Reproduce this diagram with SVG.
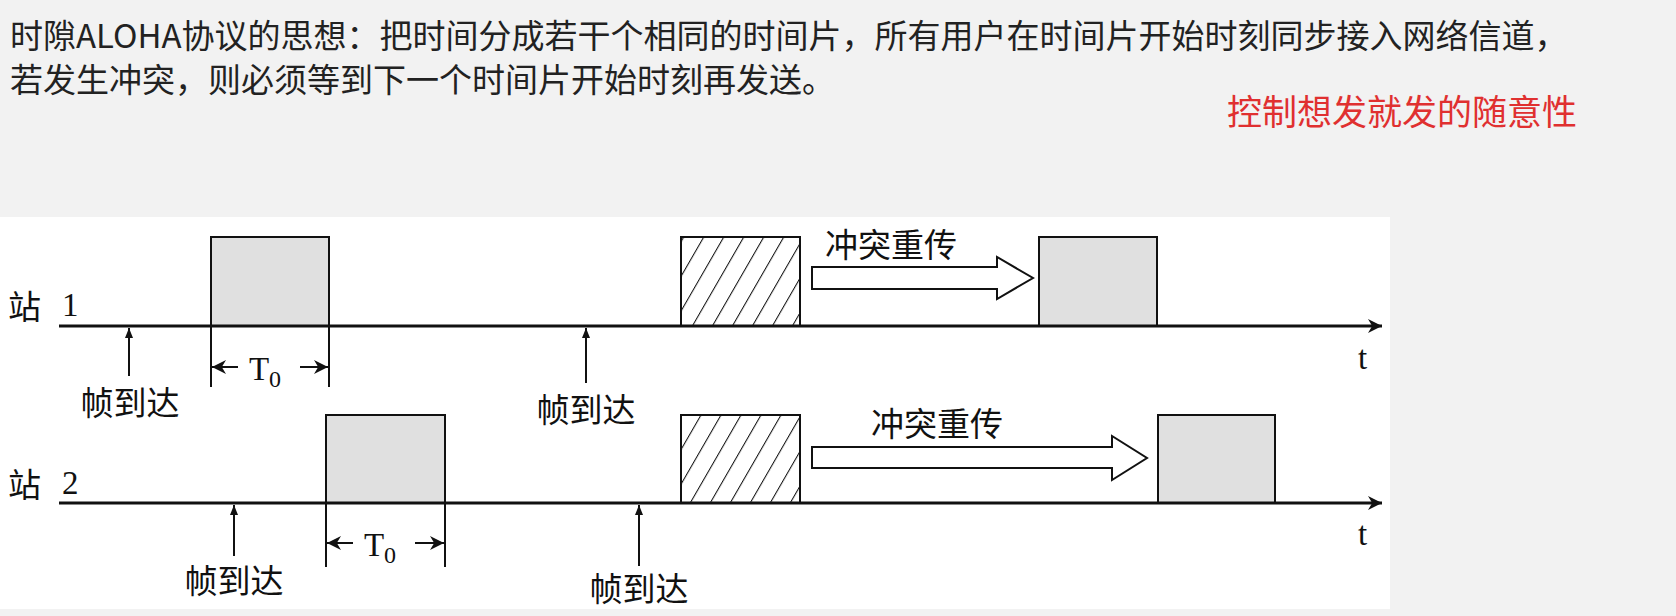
<svg xmlns="http://www.w3.org/2000/svg" width="1676" height="616" viewBox="0 0 1676 616">
<defs>
<style>
.t{font-family:"Noto Sans CJK SC","Noto Sans",sans-serif;font-size:33px;fill:#222}
.s{font-family:"Liberation Serif","Noto Sans CJK SC",serif;font-size:33px;fill:#111}
.ln{stroke:#111;stroke-width:3;fill:none}
.th{stroke:#111;stroke-width:2;fill:none}
.box{fill:#e0e0e0;stroke:#111;stroke-width:2}
.hb{fill:url(#hatch);stroke:#111;stroke-width:2}
</style>
<pattern id="hatch" patternUnits="userSpaceOnUse" width="20" height="20" patternTransform="skewX(-30)">
<line x1="0" y1="0" x2="0" y2="20" stroke="#111" stroke-width="2.4"/>
</pattern>
<marker id="ah" viewBox="0 0 10 10" refX="10" refY="5" markerWidth="10" markerHeight="12" markerUnits="userSpaceOnUse" orient="auto"><path d="M0,1 L10,5 L0,9 Z" fill="#111"/></marker>
<marker id="axh" viewBox="0 0 10 10" refX="10" refY="5" markerWidth="24" markerHeight="14" markerUnits="userSpaceOnUse" orient="auto"><path d="M0,0 L10,5 L0,10 L3,5 Z" fill="#111"/></marker>
<marker id="dh" viewBox="0 0 10 10" refX="10" refY="5" markerWidth="22" markerHeight="14" markerUnits="userSpaceOnUse" orient="auto"><path d="M0,0 L10,5 L0,10 L3,5 Z" fill="#111"/></marker>
</defs>
<rect width="1676" height="616" fill="#f2f2f2"/>
<text class="t" x="10" y="48">时隙ALOHA协议的思想：把时间分成若干个相同的时间片，所有用户在时间片开始时刻同步接入网络信道，</text>
<text class="t" x="10" y="92">若发生冲突，则必须等到下一个时间片开始时刻再发送。</text>
<text class="t" x="1227" y="125" style="fill:#e03030;font-size:35px">控制想发就发的随意性</text>
<rect x="0" y="217" width="1390" height="392" fill="#fff"/>
<g id="station1">
<text class="s" x="8" y="319">站</text><text class="s" x="62" y="316">1</text>
<rect class="box" x="211" y="237" width="118" height="89"/>
<rect class="hb" x="681" y="237" width="119" height="89"/>
<rect class="box" x="1039" y="237" width="118" height="89"/>
<text class="s" x="825" y="257">冲突重传</text>
<path class="th" d="M812,267 H997 V257 L1033,278 L997,299 V289 H812 Z" fill="#fff"/>
<text class="s" x="1358" y="369">t</text>
<text class="s" x="130" y="415" text-anchor="middle">帧到达</text>
<text class="s" x="586" y="422" text-anchor="middle">帧到达</text>
<text class="s" x="265" y="380" text-anchor="middle" font-size="36">T<tspan font-size="24" dy="7">0</tspan></text>
</g>
<g id="station2">
<text class="s" x="8" y="497">站</text><text class="s" x="62" y="494">2</text>
<rect class="box" x="326" y="415" width="119" height="88"/>
<rect class="hb" x="681" y="415" width="119" height="88"/>
<rect class="box" x="1158" y="415" width="117" height="88"/>
<text class="s" x="871" y="436">冲突重传</text>
<path class="th" d="M812,447 H1112 V436 L1147,458 L1112,480 V468 H812 Z" fill="#fff"/>
<text class="s" x="1358" y="545">t</text>
<text class="s" x="234" y="593" text-anchor="middle">帧到达</text>
<text class="s" x="639" y="601" text-anchor="middle">帧到达</text>
<text class="s" x="380" y="556" text-anchor="middle" font-size="36">T<tspan font-size="24" dy="7">0</tspan></text>
</g>
<g id="connectors">
<line class="ln" x1="59" y1="326" x2="1382" y2="326" marker-end="url(#axh)"/>
<line class="ln" x1="59" y1="503" x2="1382" y2="503" marker-end="url(#axh)"/>
<line class="th" x1="129" y1="376" x2="129" y2="328" marker-end="url(#ah)"/>
<line class="th" x1="586" y1="383" x2="586" y2="328" marker-end="url(#ah)"/>
<line class="th" x1="234" y1="556" x2="234" y2="505" marker-end="url(#ah)"/>
<line class="th" x1="639" y1="566" x2="639" y2="505" marker-end="url(#ah)"/>
<path class="th" d="M211,326 V387 M329,326 V387 M326,503 V567 M445,503 V567"/>
<line class="th" x1="238" y1="367" x2="212" y2="367" marker-end="url(#dh)"/>
<line class="th" x1="300" y1="367" x2="328" y2="367" marker-end="url(#dh)"/>
<line class="th" x1="353" y1="543" x2="327" y2="543" marker-end="url(#dh)"/>
<line class="th" x1="415" y1="543" x2="444" y2="543" marker-end="url(#dh)"/>
</g>
</svg>
